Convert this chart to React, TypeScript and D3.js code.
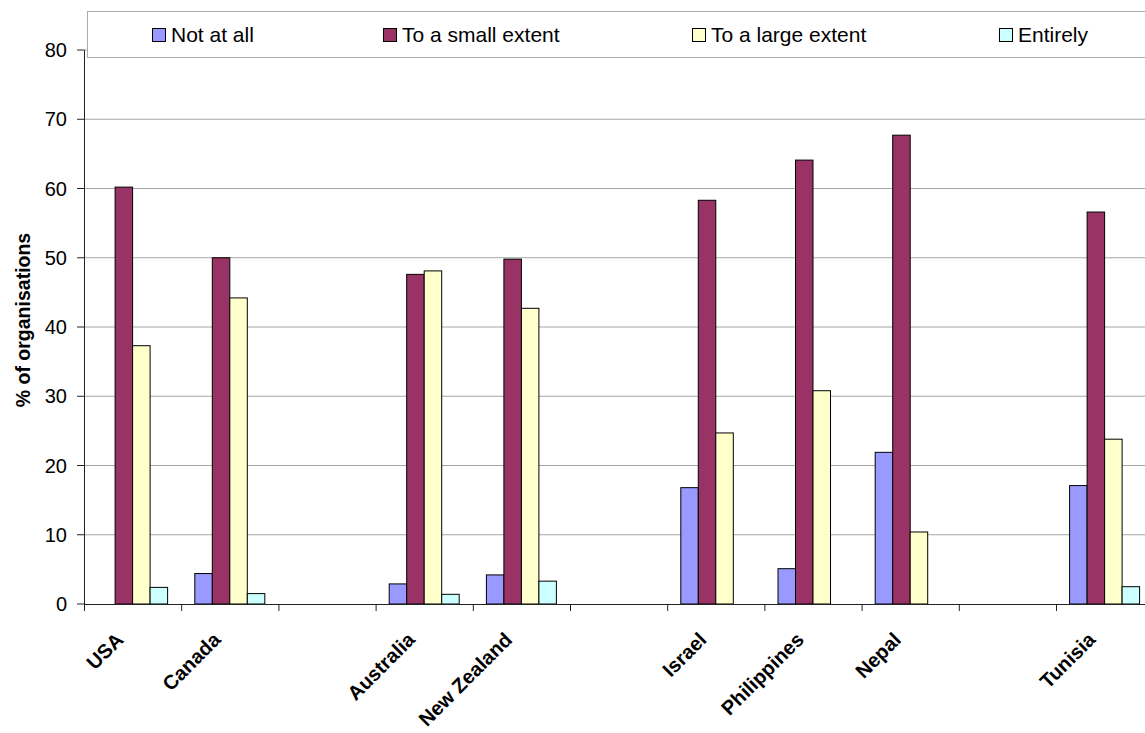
import React from "react";
import * as d3 from "d3";

const categories = ["USA", "Canada", "", "Australia", "New Zealand", "", "Israel", "Philippines", "Nepal", " ", "Tunisia"];
const seriesNames = ["Not at all", "To a small extent", "To a large extent", "Entirely"];
const notAtAll: (number | null)[] = [0, 4.4, null, 2.9, 4.2, null, 16.8, 5.1, 21.9, null, 17.1];
const smallExtent: (number | null)[] = [60.2, 50.0, null, 47.6, 49.8, null, 58.3, 64.1, 67.7, null, 56.6];
const largeExtent: (number | null)[] = [37.3, 44.2, null, 48.1, 42.7, null, 24.7, 30.8, 10.4, null, 23.8];
const entirely: (number | null)[] = [2.4, 1.5, null, 1.4, 3.3, null, 0, 0, 0, null, 2.5];
const seriesColors = ["#9999FF", "#993366", "#FFFFCC", "#CCFFFF"];
const yTicks = [0, 10, 20, 30, 40, 50, 60, 70, 80];
const legendX = [152, 383, 692, 999];

const W = 1145;
const H = 733;
const FONT = "'Liberation Sans', Arial, sans-serif";

export default function App() {
  const seriesValues = [notAtAll, smallExtent, largeExtent, entirely];
  const keys = categories.map((c, i) => `${c}#${i}`);
  const x = d3.scaleBand<string>().domain(keys).range([84, 1153.2]).paddingInner(0).paddingOuter(0);
  const xi = d3.scaleBand<string>().domain(seriesNames).range([0, x.bandwidth()]).paddingInner(0).paddingOuter(0.777);
  const y = d3.scaleLinear().domain([0, 80]).range([604, 50]);
  const bw = x.bandwidth();
  const boundaries = d3.range(keys.length + 1).map((i) => 84 + i * bw);

  return (
    <svg width={W} height={H} style={{ position: "absolute", left: 0, top: 0, background: "#fff" }} fontFamily={FONT}>
      <rect x={0} y={0} width={W} height={H} fill="#fff" />
      {/* gridlines */}
      {yTicks.filter((t) => t > 0).map((t) => (
        <line key={`g${t}`} x1={84} x2={W} y1={y(t)} y2={y(t)} stroke="#a6a6a6" strokeWidth={1} />
      ))}
      {/* bars */}
      {keys.map((k, ci) =>
        seriesValues.map((vals, si) => {
          const v = vals[ci];
          if (v === null || v === 0) return null;
          const bx = (x(k) as number) + (xi(seriesNames[si]) as number);
          return (
            <rect
              key={`${k}-${si}`}
              x={bx}
              y={y(v)}
              width={xi.bandwidth()}
              height={y(0) - y(v)}
              fill={seriesColors[si]}
              stroke="#000"
              strokeWidth={1}
            />
          );
        })
      )}
      {/* y axis */}
      <line x1={84.5} x2={84.5} y1={50} y2={604} stroke="#222" strokeWidth={1} />
      {yTicks.map((t) => (
        <g key={`t${t}`}>
          <line x1={77} x2={84} y1={y(t)} y2={y(t)} stroke="#222" strokeWidth={1} />
          <text x={67} y={y(t)} dy="0.35em" textAnchor="end" fontSize={20} fill="#000">
            {t}
          </text>
        </g>
      ))}
      {/* x axis */}
      <line x1={84} x2={W} y1={604.5} y2={604.5} stroke="#222" strokeWidth={1.2} />
      {boundaries.map((bx, i) => (
        <line key={`xt${i}`} x1={bx + 0.5} x2={bx + 0.5} y1={604} y2={611} stroke="#222" strokeWidth={1} />
      ))}
      {keys.map((k, i) => {
        const cx = (x(k) as number) + bw / 2;
        return (
          <text
            key={`xl${i}`}
            transform={`translate(${cx - 8},${641}) rotate(-45)`}
            textAnchor="end"
            fontSize={20}
            fontWeight="bold"
            fill="#000"
          >
            {categories[i].trim()}
          </text>
        );
      })}
      {/* y axis title */}
      <text
        transform={`translate(${30},${320}) rotate(-90)`}
        textAnchor="middle"
        fontSize={19.5}
        fontWeight="bold"
        fill="#000"
      >
        % of organisations
      </text>
      {/* legend */}
      <rect x={87.5} y={11.5} width={W} height={46} fill="#fff" stroke="#aaa" strokeWidth={1} />
      {seriesNames.map((s, i) => (
        <g key={`lg${i}`}>
          <rect x={legendX[i] + 0.5} y={28.5} width={13} height={13} fill={seriesColors[i]} stroke="#000" strokeWidth={1} />
          <text x={legendX[i] + 19} y={42} fontSize={21} fill="#000">
            {s}
          </text>
        </g>
      ))}
    </svg>
  );
}
